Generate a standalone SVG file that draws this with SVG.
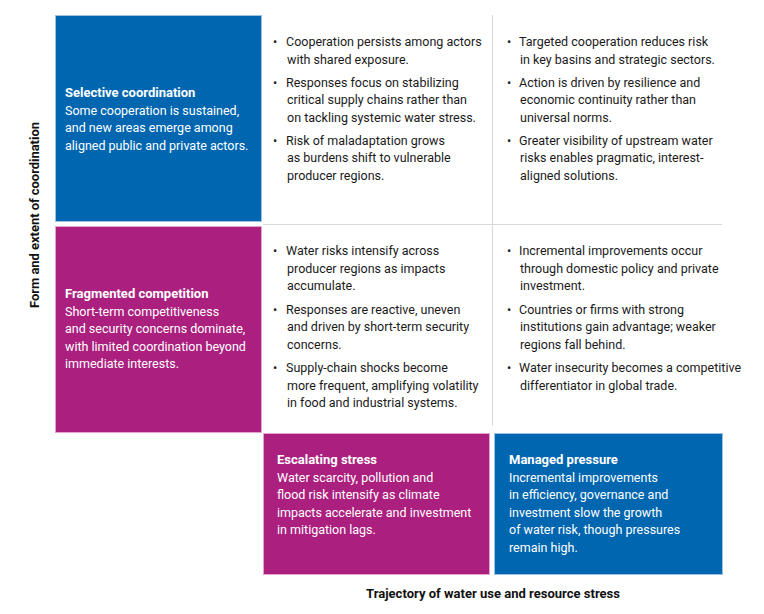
<svg xmlns="http://www.w3.org/2000/svg" width="764" height="614" viewBox="0 0 764 614">
<style>
text{font-family:Roboto,"Liberation Sans",sans-serif;font-size:12.5px;fill:#1a1a1a}
.w{fill:#fff}
.b{font-weight:bold;font-size:13px}
.blue{fill:#0066b0;stroke:#9cc3e6;stroke-width:1}
.mag{fill:#ab1f7e;stroke:#e6a3cf;stroke-width:1}
.grid{stroke:#d9d9d9;stroke-width:1;fill:none}
.ax{font-weight:bold;font-size:13px;fill:#111}
</style>
<rect width="764" height="614" fill="#fff"/>
<g id="grid" class="connectors">
<line class="grid" x1="492.5" y1="15" x2="492.5" y2="426"/>
<line class="grid" x1="263" y1="224.5" x2="722" y2="224.5"/>
</g>
<g id="selective-coordination">
<rect class="blue" x="55.5" y="15.5" width="206" height="206"/>
<text x="65" y="97" class="w b">Selective coordination</text>
<text x="65" y="115" class="w">Some cooperation is sustained,</text>
<text x="65" y="132" class="w">and new areas emerge among</text>
<text x="65" y="150" class="w">aligned public and private actors.</text>
</g>
<g id="fragmented-competition">
<rect class="mag" x="55.5" y="226.5" width="206" height="206"/>
<text x="65" y="298" class="w b">Fragmented competition</text>
<text x="65" y="316" class="w">Short-term competitiveness</text>
<text x="65" y="333" class="w">and security concerns dominate,</text>
<text x="65" y="351" class="w">with limited coordination beyond</text>
<text x="65" y="368" class="w">immediate interests.</text>
</g>
<g id="escalating-stress">
<rect class="mag" x="263.5" y="433.5" width="226" height="141"/>
<text x="277" y="464" class="w b">Escalating stress</text>
<text x="277" y="482" class="w">Water scarcity, pollution and</text>
<text x="277" y="499" class="w">flood risk intensify as climate</text>
<text x="277" y="517" class="w">impacts accelerate and investment</text>
<text x="277" y="534" class="w">in mitigation lags.</text>
</g>
<g id="managed-pressure">
<rect class="blue" x="494.5" y="433.5" width="228" height="141"/>
<text x="509" y="464" class="w b">Managed pressure</text>
<text x="509" y="482" class="w">Incremental improvements</text>
<text x="509" y="499" class="w">in efficiency, governance and</text>
<text x="509" y="517" class="w">investment slow the growth</text>
<text x="509" y="534" class="w">of water risk, though pressures</text>
<text x="509" y="552" class="w">remain high.</text>
</g>
<g id="top-middle">
<text x="273" y="46">•</text><text x="286" y="46">Cooperation persists among actors</text>
<text x="287" y="64">with shared exposure.</text>
<text x="273" y="87">•</text><text x="286" y="87">Responses focus on stabilizing</text>
<text x="287" y="104">critical supply chains rather than</text>
<text x="287" y="122">on tackling systemic water stress.</text>
<text x="273" y="145">•</text><text x="286" y="145">Risk of maladaptation grows</text>
<text x="287" y="162">as burdens shift to vulnerable</text>
<text x="287" y="180">producer regions.</text>
</g>
<g id="top-right">
<text x="507" y="46">•</text><text x="519" y="46">Targeted cooperation reduces risk</text>
<text x="520" y="64">in key basins and strategic sectors.</text>
<text x="507" y="87">•</text><text x="519" y="87">Action is driven by resilience and</text>
<text x="520" y="104">economic continuity rather than</text>
<text x="520" y="122">universal norms.</text>
<text x="507" y="145">•</text><text x="519" y="145">Greater visibility of upstream water</text>
<text x="520" y="162">risks enables pragmatic, interest-</text>
<text x="520" y="180">aligned solutions.</text>
</g>
<g id="mid-middle">
<text x="273" y="255">•</text><text x="286" y="255">Water risks intensify across</text>
<text x="287" y="273">producer regions as impacts</text>
<text x="287" y="290">accumulate.</text>
<text x="273" y="314">•</text><text x="286" y="314">Responses are reactive, uneven</text>
<text x="287" y="331">and driven by short-term security</text>
<text x="287" y="349">concerns.</text>
<text x="273" y="372">•</text><text x="286" y="372">Supply-chain shocks become</text>
<text x="287" y="390">more frequent, amplifying volatility</text>
<text x="287" y="407">in food and industrial systems.</text>
</g>
<g id="mid-right">
<text x="507" y="255">•</text><text x="519" y="255">Incremental improvements occur</text>
<text x="520" y="273">through domestic policy and private</text>
<text x="520" y="290">investment.</text>
<text x="507" y="314">•</text><text x="519" y="314">Countries or firms with strong</text>
<text x="520" y="331">institutions gain advantage; weaker</text>
<text x="520" y="349">regions fall behind.</text>
<text x="507" y="372">•</text><text x="519" y="372">Water insecurity becomes a competitive</text>
<text x="520" y="390">differentiator in global trade.</text>
</g>
<g id="axes">
<text class="ax" x="493" y="598" text-anchor="middle" textLength="254" lengthAdjust="spacing">Trajectory of water use and resource stress</text>
<text class="ax" x="0" y="0" text-anchor="middle" textLength="186" lengthAdjust="spacing" transform="translate(39,215) rotate(-90)">Form and extent of coordination</text>
</g>
</svg>
